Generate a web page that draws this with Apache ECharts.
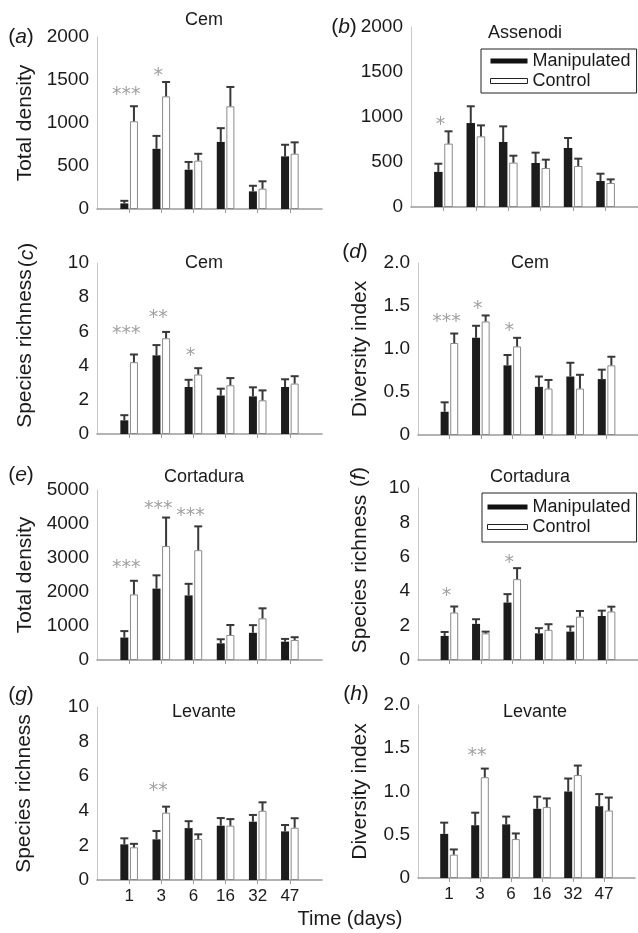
<!DOCTYPE html>
<html>
<head>
<meta charset="utf-8">
<title>Manipulated vs Control</title>
<script src="https://cdn.jsdelivr.net/npm/echarts@6/dist/echarts.min.js"></script>
<style>
html, body {margin:0; padding:0; background:#fff;}
#graphic {width:638px; height:933px;}
</style>
</head>
<body>
<div id="graphic"></div>
<script>
// time (days) - x categories
var days = ['1', '3', '6', '16', '32', '47'];

// (a) Cem - total density
var aMan    = [65, 700, 457, 780, 205, 612];
var aManErr = [30, 150, 90, 160, 65, 135];
var aCon    = [1020, 1310, 562, 1194, 236, 643];
var aConErr = [175, 167, 80, 225, 86, 132];
var aSig    = ['***', '*', '', '', '', ''];
var aSigY   = [1360, 1581, null, null, null, null];

// (b) Assenodi - total density
var bMan    = [390, 933, 722, 489, 656, 289];
var bManErr = [91, 186, 174, 115, 111, 81];
var bCon    = [704, 785, 493, 433, 456, 267];
var bConErr = [137, 122, 77, 93, 81, 40];
var bSig    = ['*', '', '', '', '', ''];
var bSigY   = [944, null, null, null, null, null];

// (c) Cem - species richness
var cMan    = [0.8, 4.6, 2.75, 2.25, 2.2, 2.75];
var cManErr = [0.3, 0.6, 0.42, 0.4, 0.53, 0.45];
var cCon    = [4.2, 5.6, 3.48, 2.85, 1.97, 2.95];
var cConErr = [0.45, 0.37, 0.37, 0.42, 0.58, 0.43];
var cSig    = ['***', '**', '*', '', '', ''];
var cSigY   = [6.02, 6.96, 4.74, null, null, null];

// (d) Cem - diversity index
var dMan    = [0.27, 1.13, 0.81, 0.56, 0.68, 0.65];
var dManErr = [0.11, 0.14, 0.12, 0.12, 0.16, 0.11];
var dCon    = [1.07, 1.32, 1.03, 0.54, 0.54, 0.81];
var dConErr = [0.11, 0.07, 0.1, 0.1, 0.16, 0.1];
var dSig    = ['***', '*', '*', '', '', ''];
var dSigY   = [1.35, 1.5, 1.24, null, null, null];

// (e) Cortadura - total density
var eMan    = [660, 2100, 1900, 490, 800, 540];
var eManErr = [190, 390, 340, 120, 225, 80];
var eCon    = [1930, 3350, 3230, 735, 1225, 590];
var eConErr = [400, 840, 700, 295, 295, 80];
var eSig    = ['***', '***', '***', '', '', ''];
var eSigY   = [2794, 4529, 4323, null, null, null];

// (f) Cortadura - species richness
var fMan    = [1.4, 2.1, 3.34, 1.55, 1.65, 2.56];
var fManErr = [0.23, 0.27, 0.49, 0.3, 0.3, 0.31];
var fCon    = [2.76, 1.55, 4.7, 1.75, 2.52, 2.82];
var fConErr = [0.35, 0.1, 0.64, 0.33, 0.33, 0.28];
var fSig    = ['*', '', '*', '', '', ''];
var fSigY   = [3.91, null, 5.83, null, null, null];

// (g) Levante - species richness
var gMan    = [2.06, 2.35, 3.0, 3.14, 3.37, 2.81];
var gManErr = [0.35, 0.48, 0.4, 0.44, 0.39, 0.37];
var gCon    = [1.89, 3.89, 2.37, 3.14, 4.0, 3.02];
var gConErr = [0.2, 0.35, 0.27, 0.38, 0.49, 0.55];
var gSig    = ['', '**', '', '', '', ''];
var gSigY   = [null, 5.32, null, null, null, null];

// (h) Levante - diversity index
var hMan    = [0.51, 0.61, 0.62, 0.8, 1.0, 0.83];
var hManErr = [0.13, 0.145, 0.09, 0.14, 0.15, 0.14];
var hCon    = [0.27, 1.165, 0.45, 0.82, 1.19, 0.78];
var hConErr = [0.06, 0.1, 0.065, 0.1, 0.11, 0.15];
var hSig    = ['', '**', '', '', '', ''];
var hSigY   = [null, 1.445, null, null, null, null];

var font = 'Liberation Sans, Arial, Helvetica, sans-serif';
var ink = '#1a1a1a';

// empty slot before and after, so the bars sit on the tick points
var cats = [''].concat(days).concat(['']);

function fmtInt(v){ return String(v); }
function fmtDec(v){ return v === 0 ? '0' : v.toFixed(1); }

// box: left, top, width, height
var panels = [
    {box:[97, 37, 225, 172],  max:2000, step:500, fmt:fmtInt, name:'Total density',    gap:61, man:aMan, manErr:aManErr, con:aCon, conErr:aConErr, sig:aSig, sigY:aSigY, barW:8},
    {box:[411, 27, 232, 180], max:2000, step:500, fmt:fmtInt, name:'',                 gap:47, man:bMan, manErr:bManErr, con:bCon, conErr:bConErr, sig:bSig, sigY:bSigY, barW:8.5},
    {box:[97, 263, 225, 171], max:10,   step:2,   fmt:fmtInt, name:'Species richness', gap:61, man:cMan, manErr:cManErr, con:cCon, conErr:cConErr, sig:cSig, sigY:cSigY, barW:8},
    {box:[418, 263, 225, 172],max:2,    step:0.5, fmt:fmtDec, name:'Diversity index',  gap:47, man:dMan, manErr:dManErr, con:dCon, conErr:dConErr, sig:dSig, sigY:dSigY, barW:8},
    {box:[97, 490, 225, 170], max:5000, step:1000,fmt:fmtInt, name:'Total density',    gap:61, man:eMan, manErr:eManErr, con:eCon, conErr:eConErr, sig:eSig, sigY:eSigY, barW:8},
    {box:[418, 488, 225, 172],max:10,   step:2,   fmt:fmtInt, name:'Species richness', gap:47, man:fMan, manErr:fManErr, con:fCon, conErr:fConErr, sig:fSig, sigY:fSigY, barW:8},
    {box:[97, 707, 225, 173], max:10,   step:2,   fmt:fmtInt, name:'Species richness', gap:62, man:gMan, manErr:gManErr, con:gCon, conErr:gConErr, sig:gSig, sigY:gSigY, barW:8, xLabels:true},
    {box:[418, 705, 225, 173],max:2,    step:0.5, fmt:fmtDec, name:'Diversity index',  gap:47, man:hMan, manErr:hManErr, con:hCon, conErr:hConErr, sig:hSig, sigY:hSigY, barW:8, xLabels:true}
];

function toXY(arr){
    var ret = [];
    for(var k=0; k<arr.length; k++) ret.push([k+1, arr[k]]);
    return ret;
}

function errData(p){
    var ret = [];
    for(var k=0; k<p.man.length; k++){
        ret.push([k+1, p.man[k], p.manErr[k], -1]);
        ret.push([k+1, p.con[k], p.conErr[k], 1]);
    }
    return ret;
}

function sigData(p){
    var ret = [];
    for(var k=0; k<p.sig.length; k++){
        if(p.sig[k]) ret.push({name:p.sig[k], value:[k+1, p.sigY[k]]});
    }
    return ret;
}

//error bar: stem from bar top plus a cap
function errRender(off){
    return function(params, api){
        var side = api.value(3);
        var base = api.coord([api.value(0), api.value(1)]);
        var top = api.coord([api.value(0), api.value(1) + api.value(2)]);
        var x = base[0] + side * off;
        var st = {stroke:'#383838', lineWidth:2};
        return {type:'group', children:[
            {type:'line', shape:{x1:x, y1:base[1], x2:x, y2:top[1]}, style:st},
            {type:'line', shape:{x1:x-4, y1:top[1], x2:x+4, y2:top[1]}, style:st}
        ]};
    };
}

function letter(ch, x, y, rotate){
    return {
        type:'text', x:x, y:y, rotation: rotate ? Math.PI/2 : 0,
        style:{
            text:'{n|(}{i|' + ch + '}{n|)}',
            align:'center', verticalAlign:'middle',
            textAlign:'center', textVerticalAlign:'middle',
            rich:{
                n:{fontSize:21, fontFamily:font, fill:ink},
                i:{fontSize:21, fontFamily:font, fill:ink, fontStyle:'italic'}
            }
        }
    };
}

function label(txt, x, y, size){
    return {
        type:'text', x:x, y:y,
        style:{
            text:txt, fill:ink, fontSize:size, fontFamily:font,
            align:'center', verticalAlign:'middle',
            textAlign:'center', textVerticalAlign:'middle'
        }
    };
}

function legendBox(left, top, w, pad){
    return {
        orient:'vertical', left:left, top:top, padding:pad, itemGap:0,
        itemWidth:w, itemHeight:5, selectedMode:false,
        borderColor:'#222', borderWidth:1, backgroundColor:'#fff',
        textStyle:{fontSize:18, color:ink, fontFamily:font, lineHeight:20},
        data:[
            {name:'Manipulated', icon:'rect', itemStyle:{color:'#111', borderWidth:0}},
            {name:'Control', icon:'rect', itemStyle:{color:'#fff', borderColor:'#222', borderWidth:1}}
        ]
    };
}

function getOption(){
    var option = {
        backgroundColor:'#fff',
        animation:false,
        grid:[], xAxis:[], yAxis:[], series:[],
        legend:[
            legendBox(481, 49, 37, [2, 6, 2, 9]),
            legendBox(482, 493, 40, [4, 6, 5, 5])
        ],
        graphic:[
            letter('a', 21, 37), letter('b', 344, 27), letter('c', 27, 255, true), letter('d', 355, 252),
            letter('e', 21, 475), letter('f', 359, 477, true), letter('g', 21, 695), letter('h', 356, 694),
            label('Cem', 204, 20, 18), label('Assenodi', 525, 33, 18),
            label('Cem', 204, 263, 18), label('Cem', 530, 263, 18),
            label('Cortadura', 204, 477, 18), label('Cortadura', 530, 477, 18),
            label('Levante', 204, 712, 18), label('Levante', 535, 712, 18),
            label('Time (days)', 350, 919, 20)
        ]
    };

    for(var i=0; i<panels.length; i++){
        var p = panels[i];
        option.grid.push({left:p.box[0], top:p.box[1], width:p.box[2], height:p.box[3]});
        option.xAxis.push({
            type:'category', gridIndex:i, data:cats, boundaryGap:false,
            axisLine:{lineStyle:{color:'#9a9a9a', width:1.5}},
            axisTick:{show:true, length:4, interval:function(idx, val){ return val !== ''; }, lineStyle:{color:'#9a9a9a'}},
            axisLabel:{show:!!p.xLabels, interval:0, fontSize:17, color:ink, fontFamily:font, margin:8},
            splitLine:{show:false}
        });
        option.yAxis.push({
            type:'value', gridIndex:i, min:0, max:p.max, interval:p.step,
            name:p.name, nameLocation:'middle', nameGap:p.gap,
            nameTextStyle:{fontSize:21, color:ink, fontFamily:font},
            axisLine:{show:true, lineStyle:{color:'#c8c8c8'}},
            axisTick:{show:false},
            axisLabel:{fontSize:19, color:ink, fontFamily:font, margin:8, formatter:p.fmt},
            splitLine:{show:false}
        });
        option.series.push({
            name:'Manipulated', type:'bar', xAxisIndex:i, yAxisIndex:i,
            barWidth:p.barW, barGap:'20%',
            itemStyle:{color:'#1c1c1c'},
            data:toXY(p.man)
        });
        option.series.push({
            name:'Control', type:'bar', xAxisIndex:i, yAxisIndex:i,
            barWidth:p.barW, barGap:'20%',
            itemStyle:{color:'#fff', borderColor:'#8a8a8a', borderWidth:1},
            data:toXY(p.con)
        });
        option.series.push({
            type:'custom', xAxisIndex:i, yAxisIndex:i, z:5,
            renderItem:errRender(p.barW * 1.2 / 2),
            encode:{x:0, y:1},
            data:errData(p)
        });
        option.series.push({
            type:'scatter', xAxisIndex:i, yAxisIndex:i, symbolSize:0, z:6,
            label:{show:true, position:'inside', formatter:'{b}', offset:[-3, 3],
                fontSize:19, fontFamily:'DejaVu Sans', color:'#888'},
            data:sigData(p)
        });
    }
    return option;
}

var graphic = echarts.init(document.getElementById('graphic'));
graphic.setOption(getOption());
</script>
</body>
</html>
